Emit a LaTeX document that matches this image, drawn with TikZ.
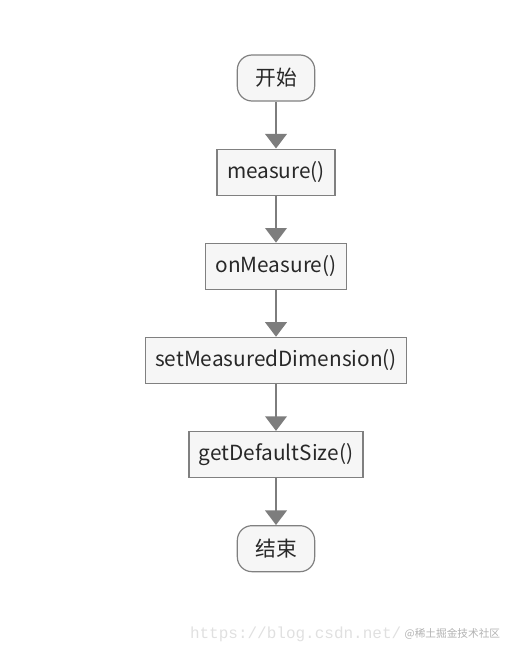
\documentclass[tikz,border=0pt]{standalone}
\usepackage{fontspec}
\setmainfont{Noto Sans CJK SC}
\setmonofont{Liberation Mono}
\usetikzlibrary{shapes.geometric, arrows.meta}
\definecolor{boxfill}{RGB}{246, 246, 246}
\definecolor{boxline}{RGB}{128, 128, 128}
\definecolor{arrowgray}{RGB}{125, 125, 125}
\definecolor{textgray}{RGB}{40, 40, 40}
\tikzstyle{terminal} = [rectangle, rounded corners=11pt,
                        minimum width=58pt, minimum height=34.5pt,
                        text centered, draw=boxline, fill=boxfill,
                        text=textgray, line width=0.9pt, font=\fontsize{15.6pt}{18pt}\selectfont]
\tikzstyle{process} = [rectangle, inner xsep=7.5pt,
                       minimum width=60pt, minimum height=34.5pt,
                       text centered, draw=boxline, fill=boxfill,
                       text=textgray, line width=0.9pt, font=\fontsize{15.6pt}{18pt}\selectfont]
\tikzstyle{arrow} = [draw=arrowgray, line width=2.2pt,
                     -{Triangle[length=11pt,width=16pt]}, arrowgray]
\begin{document}
\begin{tikzpicture}[node distance=70.6pt]
    \useasboundingbox (0,0) rectangle (387.75pt,-492.75pt);

        \node (Start) [terminal] at (207pt,-58.5pt) {开始};

        \node (Measure) [process, below of = Start] {measure()};

        \node (OnMeasure) [process, below of = Measure] {onMeasure()};

        \node (SetDim) [process, below of = OnMeasure] {setMeasuredDimension()};

        \node (GetSize) [process, below of = SetDim] {getDefaultSize()};

        \node (End) [terminal, below of = GetSize] {结束};

        \draw [arrow] (Start) -- (Measure);
        \draw [arrow] (Measure) -- (OnMeasure);
        \draw [arrow] (OnMeasure) -- (SetDim);
        \draw [arrow] (SetDim) -- (GetSize);
        \draw [arrow] (GetSize) -- (End);

        % watermark
        \node (Url) [anchor=west, text=black!12, font=\ttfamily\fontsize{12pt}{14pt}\selectfont]
            at (139pt,-475.5pt) {https://blog.csdn.net/};
        \node (Mark) [anchor=west, text=black!30, font=\fontsize{8pt}{10pt}\selectfont]
            at (300pt,-475.5pt) {@稀土掘金技术社区};

    \end{tikzpicture}
\end{document}
